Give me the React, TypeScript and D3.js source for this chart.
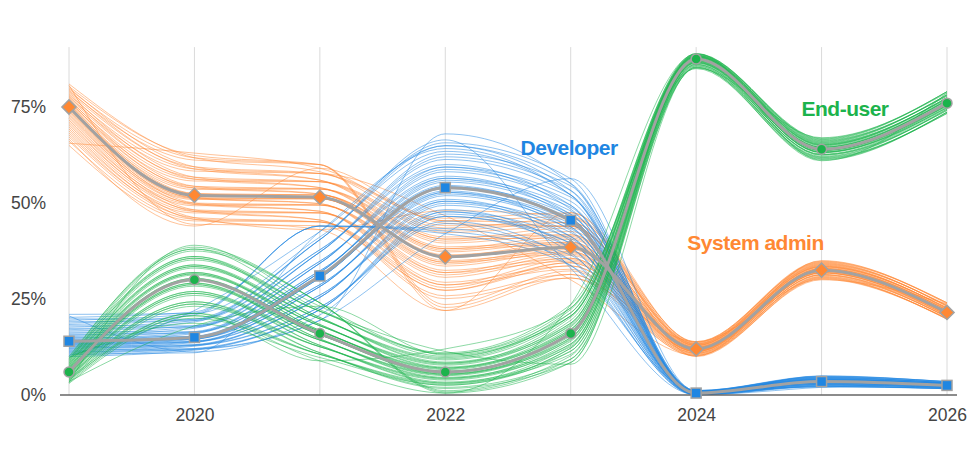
import React, { useEffect, useRef } from 'react'
import * as d3 from 'd3'

const years = [2019, 2020, 2021, 2022, 2023, 2024, 2025, 2026]
const xTicks = [2020, 2022, 2024, 2026]
const yTicks = [0, 25, 50, 75]

// main (mean) values, in %
const developer = [14, 15, 31, 54, 45.5, 0.5, 3.5, 2.5]
const sysadmin = [75, 52, 51.5, 36, 38.5, 12, 32.5, 21.5]
const endUser = [6, 30, 16, 6, 16, 87.5, 64, 76]

// spread of the bootstrap lines
const developerLo = [10, 11, 18, 42, 33, 0, 2, 1.5]
const developerHi = [21, 22, 44, 68, 57, 1.2, 5, 3.5]
const sysadminLo = [65, 44, 42, 22, 30, 10, 30, 19.5]
const sysadminHi = [81, 63, 60, 48, 48, 14, 35, 24]
const endUserLo = [3, 18, 8, 0.5, 8, 85, 61, 73]
const endUserHi = [10, 39, 24, 12, 24, 89, 67, 79]

const series = [
  { name: 'System admin', color: '#ff8833', mean: sysadmin, lo: sysadminLo, hi: sysadminHi, shape: 'diamond', label: [2023.93, 37.8] },
  { name: 'Developer', color: '#1f86e2', mean: developer, lo: developerLo, hi: developerHi, shape: 'square', label: [2022.6, 62.5] },
  { name: 'End-user', color: '#1cb34c', mean: endUser, lo: endUserLo, hi: endUserHi, shape: 'circle', label: [2024.84, 72.6] },
]

const W = 971
const H = 460
const N_LINES = 47
const FONT = '"Liberation Sans", Arial, sans-serif'

export default function App() {
  const ref = useRef<SVGSVGElement>(null)

  useEffect(() => {
    const svg = d3.select(ref.current)
    svg.selectAll('*').remove()

    const x = d3.scaleLinear().domain([2019, 2026]).range([69, 947])
    const y = d3.scaleLinear().domain([0, 90]).range([395, 49.4])
    const yMax = 90.6

    // vertical grid
    svg.append('g')
      .selectAll('line')
      .data(years)
      .join('line')
      .attr('x1', d => x(d)).attr('x2', d => x(d))
      .attr('y1', y(0)).attr('y2', y(yMax))
      .attr('stroke', '#dadada')
      .attr('stroke-width', 1)

    const line = d3.line<number>()
      .x((d, i) => x(years[i]))
      .y(d => y(d))
      .curve(d3.curveMonotoneX)

    // thin bootstrap lines spread across each band
    const gs = d3.range(N_LINES).map(k => {
      const g = -1 + (2 * k) / (N_LINES - 1)
      return Math.sign(g) * Math.pow(Math.abs(g), 1.3)
    })
    const steps = [3, -2, 2, -3, 1]

    series.forEach(s => {
      const members = d3.range(N_LINES).map(k =>
        s.mean.map((m, i) => {
          const step = steps[k % steps.length]
          const idx = (((k + i * step) % N_LINES) + N_LINES) % N_LINES
          const g = gs[idx]
          return g >= 0 ? m + g * (s.hi[i] - m) : m + g * (m - s.lo[i])
        })
      )
      svg.append('g')
        .selectAll('path')
        .data(members)
        .join('path')
        .attr('d', d => line(d))
        .attr('fill', 'none')
        .attr('stroke', s.color)
        .attr('stroke-width', 1)
        .attr('stroke-opacity', 0.5)
    })

    // baseline
    svg.append('line')
      .attr('x1', x(2019) - 9).attr('x2', x(2026) + 10)
      .attr('y1', y(0)).attr('y2', y(0))
      .attr('stroke', '#666')
      .attr('stroke-width', 1.5)

    // main lines + markers
    series.forEach(s => {
      svg.append('path')
        .attr('d', line(s.mean))
        .attr('fill', 'none')
        .attr('stroke', '#a2a2a2')
        .attr('stroke-width', 3)

      const g = svg.append('g')
      const pts = s.mean.map((v, i) => [x(years[i]), y(v)])
      if (s.shape === 'circle') {
        g.selectAll('circle').data(pts).join('circle')
          .attr('cx', d => d[0]).attr('cy', d => d[1]).attr('r', 5)
          .attr('fill', s.color).attr('stroke', '#a2a2a2').attr('stroke-width', 1.5)
      } else {
        const size = 10
        g.selectAll('rect').data(pts).join('rect')
          .attr('x', -size / 2).attr('y', -size / 2)
          .attr('width', size).attr('height', size)
          .attr('transform', d => `translate(${d[0]},${d[1]})` + (s.shape === 'diamond' ? ' rotate(45)' : ''))
          .attr('fill', s.color).attr('stroke', '#a2a2a2').attr('stroke-width', 1.5)
      }

      svg.append('text')
        .attr('x', x(s.label[0]))
        .attr('y', y(s.label[1]))
        .attr('fill', s.color)
        .attr('font-family', FONT)
        .attr('font-weight', 'bold')
        .attr('font-size', 21)
        .attr('letter-spacing', -0.5)
        .text(s.name)
    })

    // axes
    const yAxis = d3.axisLeft(y)
      .tickValues(yTicks)
      .tickFormat(d => `${d}%`)
      .tickSize(0)
      .tickPadding(0)
    svg.append('g')
      .attr('transform', 'translate(46,0)')
      .call(yAxis)
      .call(g => g.select('.domain').remove())
      .selectAll('text')
      .attr('font-size', 17.5)
      .attr('fill', '#444')
      .attr('font-family', FONT)

    const xAxis = d3.axisBottom(x)
      .tickValues(xTicks)
      .tickFormat(d => String(d))
      .tickSize(0)
      .tickPadding(14)
    svg.append('g')
      .attr('transform', `translate(0,${y(0)})`)
      .call(xAxis)
      .call(g => g.select('.domain').remove())
      .selectAll('text')
      .attr('font-size', 17.5)
      .attr('fill', '#444')
      .attr('font-family', FONT)
  }, [])

  return (
    <div style={{ position: 'absolute', left: 0, top: 0 }}>
      <svg ref={ref} width={W} height={H} style={{ display: 'block', background: '#fff' }} />
    </div>
  )
}
